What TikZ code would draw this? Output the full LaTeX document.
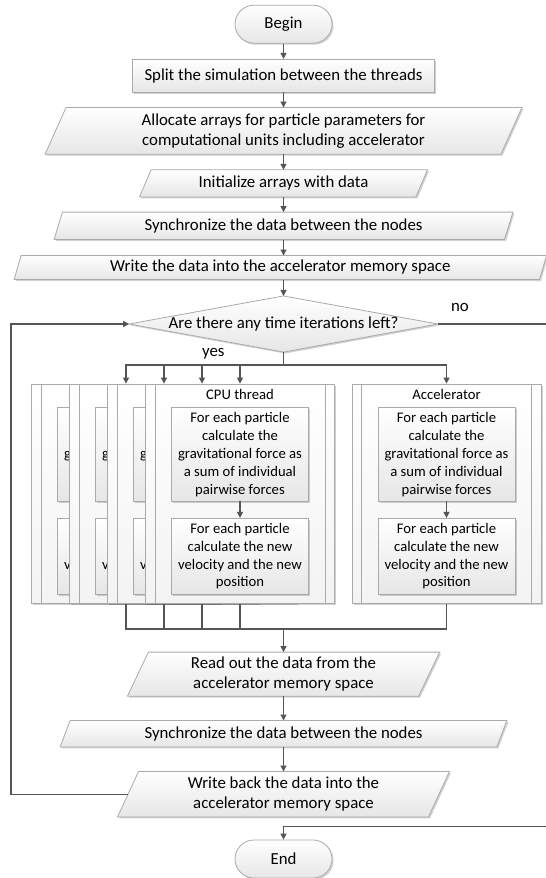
\documentclass[tikz,border=0pt]{standalone}
\usepackage{fontspec}
\setmainfont{Carlito}
\usetikzlibrary{arrows.meta,shadows,backgrounds,calc}

\definecolor{edgec}{RGB}{170,170,170}
\definecolor{conn}{RGB}{85,85,85}
\definecolor{fillbot}{RGB}{230,230,230}
\definecolor{lanebot}{RGB}{243,243,243}

\tikzset{
  big/.style={font=\fontsize{16.8}{20.3}\selectfont},
  small/.style={font=\fontsize{14.67}{17.9}\selectfont},
  boxfill/.style={top color=white, bottom color=fillbot, draw=edgec, line width=0.8pt},
  shad/.style={drop shadow={shadow xshift=1.5pt, shadow yshift=-1.5pt, opacity=0.18, fill=black}},
  terminal/.style={big, boxfill, shad, rounded corners=19pt, minimum width=97pt, minimum height=38pt, inner sep=0pt},
  procbox/.style={big, boxfill, shad, minimum height=32.7pt, inner sep=0pt},
  textbox/.style={big, align=center, inner sep=0pt},
  lanebox/.style={top color=white, bottom color=lanebot, draw=edgec, line width=0.8pt, shad,
                  minimum width=189pt, minimum height=219.3pt, inner sep=0pt},
  laneline/.style={draw=edgec, line width=0.8pt},
  innerbox/.style={small, boxfill, shad, align=center, minimum width=137pt, inner sep=0pt},
  line/.style={draw=conn, line width=1.2pt},
  arr/.style={line, -{Triangle[length=6pt,width=6pt]}},
}

% name, x, y, width, height, half slant, text
\newcommand\parabox[7]{%
  \node[textbox, minimum width=#4pt, minimum height=#5pt] (#1) at (#2,#3) {#7};
  \begin{scope}[on background layer]
    \path[boxfill, shad] ([xshift=#6pt]#1.north west) -- ([xshift=#6pt]#1.north east)
      -- ([xshift=-#6pt]#1.south east) -- ([xshift=-#6pt]#1.south west) -- cycle;
  \end{scope}}

% name, x, title
\newcommand\lane[3]{%
  \node[lanebox] (#1) at (#2,493.65) {};
  \draw[laneline] ([xshift=10pt]#1.north west) -- ([xshift=10pt]#1.south west);
  \draw[laneline] ([xshift=-10pt]#1.north east) -- ([xshift=-10pt]#1.south east);
  \node[small] (#1t) at (#2,394) {#3};
  \node[innerbox, minimum height=93.3pt] (#1a) at (#2,454.35)
    {For each particle\\calculate the\\gravitational force as\\a sum of individual\\pairwise forces};
  \node[innerbox, minimum height=75.7pt] (#1b) at (#2,556.15)
    {For each particle\\calculate the new\\velocity and the new\\position};
  \draw[arr] (#1a) -- (#1b);}

\begin{document}
\begin{tikzpicture}[x=1pt, y=-1pt]
  \begin{scope}[on background layer]
    \fill[white] (0,0) rectangle (546,878);
  \end{scope}
  \useasboundingbox (0,0) rectangle (546,878);

  \node[terminal] (begin) at (283.5,24.2) {Begin};
  \node[procbox, minimum width=302.6pt] (split) at (283.5,75.65) {Split the simulation between the threads};
  \parabox{alloc}{283.5}{130.85}{455.5}{46.3}{10.5}{Allocate arrays for particle parameters for\\computational units including accelerator}
  \parabox{init}{283.5}{183.35}{276}{26.7}{5.8}{Initialize arrays with data}
  \parabox{syncA}{283.5}{225.8}{450}{27}{4.2}{Synchronize the data between the nodes}
  \parabox{writeA}{280.3}{267.5}{525}{23.6}{3.5}{Write the data into the accelerator memory space}

  % decision
  \node[textbox, minimum width=308.4pt, minimum height=55.7pt] (dec) at (283.5,324) {Are there any time iterations left?};
  \begin{scope}[on background layer]
    \path[boxfill, shad] (dec.north) -- (dec.east) -- (dec.south) -- (dec.west) -- cycle;
  \end{scope}

  % lanes
  \lane{cpuA}{126}{CPU thread}
  \lane{cpuB}{164}{CPU thread}
  \lane{cpuC}{202}{CPU thread}
  \lane{cpuD}{240}{CPU thread}
  \lane{acc}{446.5}{Accelerator}

  \parabox{read}{283.5}{674.15}{290.8}{43.7}{10.5}{Read out the data from the\\accelerator memory space}
  \parabox{syncB}{283.5}{733.7}{436.3}{26}{5}{Synchronize the data between the nodes}
  \parabox{writeB}{283.5}{794.2}{310.5}{45}{10.5}{Write back the data into the\\accelerator memory space}
  \node[terminal] (end) at (283.5,859) {End};

  % labels
  \node[big] (yes) at (213.3,353.3) {yes};
  \node[big] (no) at (460,307.3) {no};

  % coordinates
  \coordinate (br) at (283.5,365);
  \coordinate (mj) at (283.5,629);
  \coordinate (lp) at (11,324);
  \coordinate (noA) at (546,324);
  \coordinate (noB) at (546,826.7);

  % connectors
  \draw[arr] (begin) -- (split);
  \draw[arr] (split) -- (alloc);
  \draw[arr] (alloc) -- (init);
  \draw[arr] (init) -- (syncA);
  \draw[arr] (syncA) -- (syncA.south |- writeA.north);
  \draw[arr] (writeA.south -| begin) -- (dec.north);

  \draw[line] (dec.south) -- (br);
  \draw[arr] (br) -| (cpuA.north);
  \draw[arr] (br) -| (cpuB.north);
  \draw[arr] (br) -| (cpuC.north);
  \draw[arr] (br) -| (cpuD.north);
  \draw[arr] (br) -| (acc.north);

  \draw[line] (cpuA.south) |- (mj) -| (acc.south);
  \draw[line] (cpuB.south) -- (cpuB.south |- mj);
  \draw[line] (cpuC.south) -- (cpuC.south |- mj);
  \draw[line] (cpuD.south) -- (cpuD.south |- mj);
  \draw[arr] (mj) -- (read);

  \draw[arr] (read) -- (syncB);
  \draw[arr] (syncB) -- (writeB);

  \draw[arr] (writeB.west) -- (writeB.west -| lp) |- (dec.west);
  \draw[line] (dec.east) -- (noA);
  \draw[arr] (noB) -| (end.north);
\end{tikzpicture}
\end{document}
